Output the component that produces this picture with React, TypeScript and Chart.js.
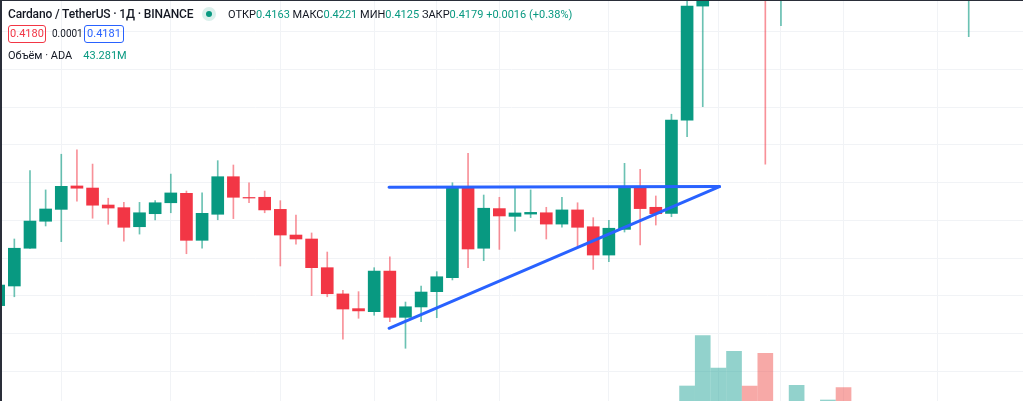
import React, { useEffect, useRef } from "react";
import { Chart, registerables } from "chart.js";

Chart.register(...registerables);

// ---- data (daily candles, ADA/USDT) ----
const opens = [
  0.2549, 0.2653, 0.2853, 0.2996, 0.3059, 0.3183, 0.3172, 0.3082, 0.3068, 0.2967,
  0.3036, 0.3094, 0.3144, 0.2895, 0.3033, 0.3232, 0.3122, 0.3123, 0.3059, 0.2923,
  0.2902, 0.2750, 0.2611, 0.2533, 0.2517, 0.2732, 0.2487, 0.2542, 0.2623, 0.2697,
  0.3171, 0.2853, 0.3063, 0.3022, 0.3034, 0.3041, 0.2981, 0.3056, 0.2967, 0.2817,
  0.2953, 0.3176, 0.3070, 0.3038, 0.3532, 0.4136, 0.4350, 0.4620, 0.4880, 0.4700,
  0.4250, 0.4550, 0.4800, 0.4700, 0.4750, 0.4450, 0.4550, 0.4500, 0.4420, 0.4520,
  0.4600, 0.4450, 0.4350,
];
const highs = [
  0.2674, 0.2902, 0.3264, 0.3162, 0.3351, 0.3375, 0.3299, 0.3118, 0.3096, 0.3096,
  0.3105, 0.3246, 0.3156, 0.3146, 0.3317, 0.3294, 0.3199, 0.3156, 0.3105, 0.3029,
  0.2934, 0.2833, 0.2630, 0.2623, 0.2750, 0.2807, 0.2568, 0.2653, 0.2729, 0.3200,
  0.3356, 0.3135, 0.3123, 0.3171, 0.3162, 0.3070, 0.3123, 0.3094, 0.3015, 0.3001,
  0.3303, 0.3271, 0.3130, 0.3563, 0.4210, 0.4450, 0.4680, 0.5000, 0.5100, 0.4850,
  0.4700, 0.4900, 0.4950, 0.4900, 0.4800, 0.4650, 0.4700, 0.4620, 0.4600, 0.4680,
  0.4650, 0.4550, 0.4500,
];
const lows = [
  0.2542, 0.2596, 0.2852, 0.2971, 0.2888, 0.3103, 0.3012, 0.2980, 0.2891, 0.2928,
  0.3003, 0.3041, 0.2824, 0.2853, 0.3004, 0.3010, 0.3094, 0.3041, 0.2759, 0.2875,
  0.2602, 0.2596, 0.2371, 0.2482, 0.2498, 0.2464, 0.2323, 0.2464, 0.2485, 0.2685,
  0.2750, 0.2787, 0.2847, 0.2944, 0.3015, 0.2902, 0.2964, 0.2863, 0.2741, 0.2782,
  0.2939, 0.2870, 0.2976, 0.3020, 0.3444, 0.3603, 0.4250, 0.4450, 0.4520, 0.3298,
  0.4032, 0.4400, 0.4600, 0.4550, 0.4350, 0.4300, 0.4400, 0.4350, 0.4300, 0.4400,
  0.4380, 0.4300, 0.3974,
];
const closes = [
  0.2658, 0.2853, 0.2997, 0.3061, 0.3181, 0.3171, 0.3081, 0.3066, 0.2964, 0.3041,
  0.3094, 0.3146, 0.2895, 0.3038, 0.3232, 0.3123, 0.3119, 0.3056, 0.2923, 0.2902,
  0.2750, 0.2612, 0.2531, 0.2521, 0.2732, 0.2487, 0.2543, 0.2621, 0.2702, 0.3171,
  0.2849, 0.3065, 0.3024, 0.3040, 0.3043, 0.2981, 0.3056, 0.2964, 0.2817, 0.2959,
  0.3176, 0.3063, 0.3036, 0.3532, 0.4136, 0.4350, 0.4620, 0.4880, 0.4700, 0.4250,
  0.4550, 0.4800, 0.4700, 0.4750, 0.4450, 0.4550, 0.4500, 0.4420, 0.4520, 0.4600,
  0.4450, 0.4350, 0.4400,
];
// volume in millions of ADA
const volumes = [
  210, 260, 300, 240, 280, 250, 230, 190, 220, 180,
  170, 200, 290, 240, 270, 230, 150, 160, 240, 170,
  260, 250, 280, 190, 230, 260, 210, 190, 200, 350,
  330, 250, 200, 170, 150, 180, 160, 190, 240, 230,
  280, 260, 180, 380, 540, 1043, 720, 887, 540, 867,
  370, 547, 340, 400, 523, 300, 260, 310, 240, 280,
  330, 250, 290,
];
// trend lines (candle index, price)
const trendX = [24.95, 46.07];
const resistanceY = [0.3176, 0.318];
const supportY = [0.2429, 0.318];
// vertical grid (date boundaries, candle index) and horizontal price grid
const dateGridIdx = [4, 11, 18, 24, 28, 32, 39, 46, 50, 54, 60];
const priceGrid = [0.22, 0.24, 0.26, 0.28, 0.3, 0.32, 0.34, 0.36, 0.38, 0.4];

const UP = "#089981";
const DOWN = "#f23645";
const UP_WICK = "rgba(8,153,129,0.6)";
const DOWN_WICK = "rgba(242,54,69,0.55)";
const UP_VOL = "rgba(38,166,154,0.5)";
const DOWN_VOL = "rgba(239,83,80,0.5)";
const GRID = "#f1f3f6";

export default function App() {
  const ref = useRef<HTMLCanvasElement | null>(null);

  useEffect(() => {
    const canvas = ref.current;
    if (!canvas) return;
    const up = closes.map((c, i) => c >= opens[i]);
    const idx = opens.map((_, i) => i);
    const chart = new Chart(canvas, {
      type: "bar",
      data: {
        datasets: [
          {
            type: "line",
            label: "resistance",
            data: trendX.map((x, k) => ({ x, y: resistanceY[k] })),
            borderColor: "#2962ff",
            borderWidth: 3,
            pointRadius: 0,
            borderCapStyle: "round",
            yAxisID: "y",
            order: 0,
          } as any,
          {
            type: "line",
            label: "support",
            data: trendX.map((x, k) => ({ x, y: supportY[k] })),
            borderColor: "#2962ff",
            borderWidth: 3,
            pointRadius: 0,
            borderCapStyle: "round",
            yAxisID: "y",
            order: 0,
          } as any,
          {
            label: "body",
            data: idx.map((i) => ({ x: i, y: [opens[i], closes[i]] })) as any,
            backgroundColor: up.map((u) => (u ? UP : DOWN)),
            barThickness: 12,
            grouped: false,
            yAxisID: "y",
            order: 1,
          },
          {
            label: "wick",
            data: idx.map((i) => ({ x: i, y: [lows[i], highs[i]] })) as any,
            backgroundColor: up.map((u) => (u ? UP_WICK : DOWN_WICK)),
            barThickness: 1,
            grouped: false,
            yAxisID: "y",
            order: 2,
          },
          {
            label: "volume",
            data: idx.map((i) => ({ x: i, y: volumes[i] })) as any,
            backgroundColor: up.map((u) => (u ? UP_VOL : DOWN_VOL)),
            barThickness: 15,
            grouped: false,
            yAxisID: "yv",
            order: 3,
          },
        ],
      },
      options: {
        responsive: false,
        animation: false,
        devicePixelRatio: 1,
        events: [],
        layout: { padding: 0 },
        plugins: { legend: { display: false }, tooltip: { enabled: false } },
        scales: {
          x: {
            type: "linear",
            min: 0.0831,
            max: 65.47,
            offset: false,
            afterBuildTicks: (s: any) => {
              s.ticks = dateGridIdx.map((v) => ({ value: v }));
            },
            ticks: { display: false },
            border: { display: false },
            grid: { color: GRID, drawTicks: false, offset: false, lineWidth: 1 },
          },
          y: {
            type: "linear",
            min: 0.20437,
            max: 0.41682,
            afterBuildTicks: (s: any) => {
              s.ticks = priceGrid.map((v) => ({ value: v }));
            },
            ticks: { display: false },
            border: { display: false },
            grid: { color: GRID, drawTicks: false, lineWidth: 1 },
          },
          yv: {
            type: "linear",
            display: false,
            min: 390,
            max: 4400,
          },
        },
      } as any,
    });
    return () => chart.destroy();
  }, []);

  const font = 'Roboto, "Noto Sans", sans-serif';
  const small: React.CSSProperties = { fontSize: 11, fontFamily: font, color: "#131722" };
  const green = { color: UP };

  return (
    <div style={{ position: "absolute", left: 0, top: 0, width: 1023, height: 401, background: "#fff", overflow: "hidden" }}>
      <canvas ref={ref} width={1023} height={401} style={{ position: "absolute", left: 0, top: 0, width: 1023, height: 401 }} />
      <div style={{ position: "absolute", left: 0, top: 0, width: 1023, height: 1, background: "#2a2e39" }} />
      <div style={{ position: "absolute", left: 0, top: 0, width: 2, height: 401, background: "#2a2e39" }} />
      <div style={{ position: "absolute", left: 8, top: 5, fontFamily: font, fontSize: 12, letterSpacing: -0.15, fontWeight: 500, color: "#131722", whiteSpace: "nowrap", lineHeight: "18px" }}>
        Cardano / TetherUS · 1Д · BINANCE
      </div>
      <div style={{ position: "absolute", left: 202, top: 7, width: 14, height: 14, borderRadius: 7, background: "rgba(8,153,129,0.15)" }} />
      <div style={{ position: "absolute", left: 206, top: 11, width: 6, height: 6, borderRadius: 3, background: UP }} />
      <div style={{ position: "absolute", left: 228, top: 8, whiteSpace: "nowrap", lineHeight: "14px", ...small }}>
        ОТКР<span style={green}>0.4163</span>{"  "}МАКС<span style={green}>0.4221</span>{"  "}МИН<span style={green}>0.4125</span>{"  "}ЗАКР<span style={green}>0.4179</span>{" "}<span style={green}>+0.0016 (+0.38%)</span>
      </div>
      <div style={{ position: "absolute", left: 8, top: 25, height: 16, width: 36, border: `1px solid ${DOWN}`, borderRadius: 3, color: DOWN, fontFamily: font, fontSize: 11, lineHeight: "16px", textAlign: "center" }}>0.4180</div>
      <div style={{ position: "absolute", left: 52, top: 26, fontFamily: font, fontSize: 10, color: "#131722", lineHeight: "16px" }}>0.0001</div>
      <div style={{ position: "absolute", left: 84, top: 25, height: 16, width: 38, border: "1px solid #2962ff", borderRadius: 3, color: "#2962ff", fontFamily: font, fontSize: 11, lineHeight: "16px", textAlign: "center" }}>0.4181</div>
      <div style={{ position: "absolute", left: 8, top: 49, whiteSpace: "nowrap", lineHeight: "14px", ...small }}>
        Объём · ADA<span style={{ ...green, marginLeft: 11 }}>43.281M</span>
      </div>
    </div>
  );
}
